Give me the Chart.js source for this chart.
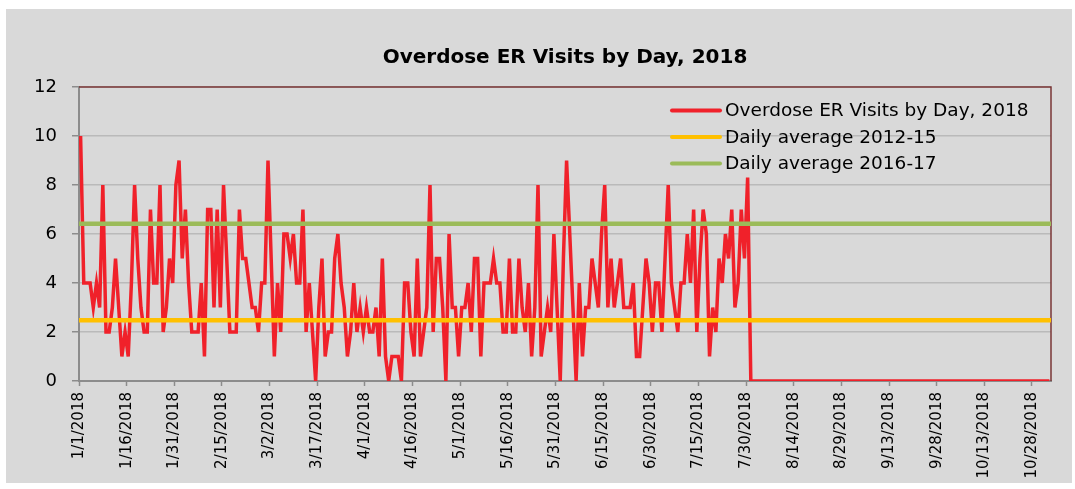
<!DOCTYPE html>
<html>
<head>
<meta charset="utf-8">
<title>Overdose ER Visits by Day, 2018</title>
<script src="https://cdn.jsdelivr.net/npm/chart.js@4.4.1/dist/chart.umd.min.js"></script>
<style>
    html, body { margin: 0; padding: 0; background: #ffffff; }
    #quadro {
        position: absolute;
        left: 6px;
        top: 9px;
        width: 1066px;
        height: 474px;
        background: #d9d9d9;
    }
</style>
</head>
<body>
<div id="quadro"><canvas id="graficoVisitas"></canvas></div>
<script>
// ==========================================
// DADOS
// ==========================================

// Visitas diárias por mês
const visitasJan = [10, 4, 4, 4, 3, 4, 3, 8, 2, 2, 3, 5, 3, 1, 2, 1, 4, 8, 5, 3, 2, 2, 7, 4, 4, 8, 2, 3, 5, 4, 8];
const visitasFev = [9, 5, 7, 4, 2, 2, 2, 4, 1, 7, 7, 3, 7, 3, 8, 5, 2, 2, 2, 7, 5, 5, 4, 3, 3, 2, 4, 4];
const visitasMar = [9, 5, 1, 4, 2, 6, 6, 5, 6, 4, 4, 7, 2, 4, 2, 0, 3, 5, 1, 2, 2, 5, 6, 4, 3, 1, 2, 4, 2, 3, 2];
const visitasAbr = [3, 2, 2, 3, 1, 5, 1, 0, 1, 1, 1, 0, 4, 4, 2, 1, 5, 1, 2, 3, 8, 2, 5, 5, 3, 0, 6, 3, 3, 1];
const visitasMai = [3, 3, 4, 2, 5, 5, 1, 4, 4, 4, 5, 4, 4, 2, 2, 5, 2, 2, 5, 3, 2, 4, 1, 3, 8, 1, 2, 3, 2, 6, 3];
const visitasJun = [0, 5, 9, 6, 3, 0, 4, 1, 3, 3, 5, 4, 3, 6, 8, 3, 5, 3, 4, 5, 3, 3, 3, 4, 1, 1, 3, 5, 4, 2];
const visitasJul = [4, 4, 2, 5, 8, 4, 3, 2, 4, 4, 6, 4, 7, 2, 5, 7, 6, 1, 3, 2, 5, 4, 6, 5, 7, 3, 4, 7, 5, 8.3, 0];
const visitasAgo = [0, 0, 0, 0, 0, 0, 0, 0, 0, 0, 0, 0, 0, 0, 0, 0, 0, 0, 0, 0, 0, 0, 0, 0, 0, 0, 0, 0, 0, 0, 0];
const visitasSet = [0, 0, 0, 0, 0, 0, 0, 0, 0, 0, 0, 0, 0, 0, 0, 0, 0, 0, 0, 0, 0, 0, 0, 0, 0, 0, 0, 0, 0, 0];
const visitasOut = [0, 0, 0, 0, 0, 0, 0, 0, 0, 0, 0, 0, 0, 0, 0, 0, 0, 0, 0, 0, 0, 0, 0, 0, 0, 0, 0, 0, 0, 0, 0];
const visitasNov = [0, 0];

// Médias diárias de referência
const media2012a15 = 2.48;
const media2016a17 = 6.42;

// Rótulos do eixo X (a cada 15 dias)
const rotulosX = ['1/1/2018', '1/16/2018', '1/31/2018', '2/15/2018', '3/2/2018', '3/17/2018', '4/1/2018',
    '4/16/2018', '5/1/2018', '5/16/2018', '5/31/2018', '6/15/2018', '6/30/2018', '7/15/2018', '7/30/2018',
    '8/14/2018', '8/29/2018', '9/13/2018', '9/28/2018', '10/13/2018', '10/28/2018'];

// Rótulos do eixo Y
const rotulosY = [0, 2, 4, 6, 8, 10, 12];

const visitas = [].concat(visitasJan, visitasFev, visitasMar, visitasAbr, visitasMai,
    visitasJun, visitasJul, visitasAgo, visitasSet, visitasOut, visitasNov);

// Uma data por dia da série
const diasDoAno = [];
for (let d = new Date(2018, 0, 1); diasDoAno.length < visitas.length; d.setDate(d.getDate() + 1)) {
    diasDoAno.push(`${d.getMonth() + 1}/${d.getDate()}/2018`);
}

const FONTE = "'DejaVu Sans', sans-serif";

// ==========================================
// PLUGINS
// ==========================================

// Borda superior e direita da área de plotagem (vinho)
const bordaArea = {
    id: 'bordaArea',
    beforeDatasetsDraw(chart) {
        const { ctx, chartArea: a } = chart;
        ctx.save();
        ctx.strokeStyle = '#7a3636';
        ctx.lineWidth = 1.5;
        ctx.beginPath();
        ctx.moveTo(a.left, a.top);
        ctx.lineTo(a.right, a.top);
        ctx.lineTo(a.right, a.bottom);
        ctx.stroke();
        ctx.restore();
    }
};

// Legenda dentro da área de plotagem, canto superior direito
const legendaInterna = {
    id: 'legendaInterna',
    afterDatasetsDraw(chart) {
        const { ctx, chartArea: a } = chart;
        const x0 = a.right - 379;
        const y0 = a.top + 23.5;
        const passo = 26.5;
        ctx.save();
        ctx.font = `18.5px ${FONTE}`;
        ctx.textBaseline = 'middle';
        ctx.textAlign = 'left';
        chart.data.datasets.forEach((ds, i) => {
            const y = y0 + i * passo;
            ctx.strokeStyle = ds.borderColor;
            ctx.lineWidth = 4;
            ctx.lineCap = 'round';
            ctx.beginPath();
            ctx.moveTo(x0, y);
            ctx.lineTo(x0 + 48, y);
            ctx.stroke();
            ctx.fillStyle = '#000000';
            ctx.fillText(ds.label, x0 + 53, y + 1);
        });
        ctx.restore();
    }
};

// ==========================================
// GRÁFICO
// ==========================================

document.addEventListener('DOMContentLoaded', () => {
    const ctx = document.getElementById('graficoVisitas');
    const inicio = 0;
    const fim = visitas.length;

    new Chart(ctx.getContext('2d'), {
        type: 'line',
        data: {
            datasets: [
                {
                    label: 'Overdose ER Visits by Day, 2018',
                    data: visitas.map((v, i) => ({ x: i + 0.5, y: v })), // ponto no meio do dia
                    borderColor: '#f0212a',
                    borderWidth: 3.5,
                    pointRadius: 0,
                    tension: 0,
                    order: 1
                },
                {
                    label: 'Daily average 2012-15',
                    data: [{ x: inicio, y: media2012a15 }, { x: fim, y: media2012a15 }],
                    borderColor: '#ffc000',
                    borderWidth: 4.5,
                    pointRadius: 0,
                    order: 0
                },
                {
                    label: 'Daily average 2016-17',
                    data: [{ x: inicio, y: media2016a17 }, { x: fim, y: media2016a17 }],
                    borderColor: '#9bbb59',
                    borderWidth: 4.5,
                    pointRadius: 0,
                    order: 0
                }
            ]
        },
        options: {
            responsive: true,
            maintainAspectRatio: false,
            animation: false,
            layout: { padding: { left: 0, right: 21, top: 0, bottom: 2 } },
            plugins: {
                legend: { display: false },
                tooltip: { enabled: false },
                title: {
                    display: true,
                    text: 'Overdose ER Visits by Day, 2018',
                    fullSize: false,
                    color: '#000000',
                    font: { family: FONTE, size: 20, weight: 'bold' },
                    padding: { top: 37, bottom: 17 }
                }
            },
            scales: {
                x: {
                    type: 'linear',
                    min: inicio,
                    max: fim,
                    afterBuildTicks: escala => {
                        escala.ticks = rotulosX.map(r => ({ value: diasDoAno.indexOf(r) }));
                    },
                    afterFit: escala => { escala.height = 100; },
                    ticks: {
                        autoSkip: false,
                        minRotation: 90,
                        maxRotation: 90,
                        padding: 6,
                        color: '#000000',
                        font: { family: FONTE, size: 15 },
                        callback: v => diasDoAno[v]
                    },
                    grid: {
                        drawOnChartArea: false,
                        tickLength: 5,
                        tickColor: '#8c8c8c',
                        tickWidth: 1.5
                    },
                    border: { color: '#8c8c8c', width: 2 }
                },
                y: {
                    min: rotulosY[0],
                    max: rotulosY[rotulosY.length - 1],
                    afterBuildTicks: escala => {
                        escala.ticks = rotulosY.map(v => ({ value: v }));
                    },
                    afterFit: escala => { escala.width = 73; },
                    ticks: {
                        padding: 15,
                        color: '#000000',
                        font: { family: FONTE, size: 18 }
                    },
                    grid: {
                        color: '#bababa',
                        lineWidth: 1.5,
                        tickLength: 7,
                        tickColor: '#8c8c8c'
                    },
                    border: { color: '#8c8c8c', width: 2 }
                }
            }
        },
        plugins: [bordaArea, legendaInterna]
    });
});
</script>
</body>
</html>
